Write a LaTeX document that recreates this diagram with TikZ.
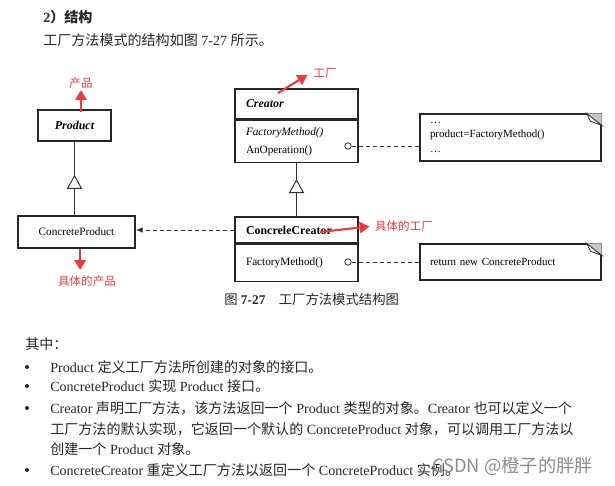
\documentclass[tikz,border=0pt]{standalone}
\usepackage{fontspec}
\setmainfont{Liberation Serif}
\newfontfamily\cjk{Noto Sans CJK SC}
\usetikzlibrary{arrows.meta,positioning,calc,decorations.markings}
\definecolor{mkred}{RGB}{240,56,56}
\newcommand{\dogear}[1]{%
  \fill[gray!45] ($(#1.north east)+(-0.38,0)$) -- (#1.north east) -- ($(#1.north east)+(0,-0.3)$) -- cycle;
  \draw[line width=0.6pt, black!80, fill=white] ($(#1.north east)+(-0.38,0)$) -- ($(#1.north east)+(0,-0.3)$) -- ($(#1.north east)+(-0.28,-0.2)$) -- cycle;}

\begin{document}
\begin{tikzpicture}[
    pbox/.style={draw=black!85, line width=1pt, minimum height=#1, inner sep=0pt, font=\fontsize{8}{10}\selectfont},
    cbox/.style={draw=black!85, line width=1pt, minimum height=#1, text width=2.525cm, inner xsep=0.275cm, inner ysep=0pt, align=left, font=\fontsize{8}{12.8}\selectfont},
    note/.style={draw=black!85, line width=1pt, minimum height=#1, text width=4.025cm, inner xsep=0.25cm, inner ysep=0pt, align=left, font=\fontsize{7.8}{10.5}\selectfont},
    opcirc/.style={circle, draw=black!80, line width=0.6pt, fill=white, inner sep=0pt, minimum size=0.16cm},
    dep/.style={dash pattern=on 3pt off 2pt, line width=0.7pt, black!80},
    inh/.style={line width=0.9pt, black!80, decoration={markings, mark=at position #1 with {\arrow{Triangle[open, fill=white, length=0.35cm, width=0.38cm, line width=0.7pt]}}}, postaction={decorate}},
    redarr/.style={draw=mkred, line width=1.5pt, -{Triangle[length=7pt, width=8pt]}},
    redlbl/.style={text=mkred, font=\cjk\fontsize{8.2}{10}\selectfont, inner sep=1pt},
    txt/.style={anchor=base west, inner sep=0pt, text=black!85, font=\fontsize{10}{12}\selectfont},
    dot/.style={circle, fill=black!85, inner sep=0pt, minimum size=0.1cm}
]
\useasboundingbox (0,0) rectangle (15.375,-12.15);

% heading
\node[txt, font=\bfseries\fontsize{10}{12}\selectfont] (ttl) at (1.075,-0.55) {2{\cjk ）结构}};
\node[txt] (sub) at (1.075,-1.125) {{\cjk 工厂方法模式的结构如图} 7-27 {\cjk 所示。}};

% product side
\node[pbox=0.775cm, minimum width=1.825cm, font=\bfseries\itshape\fontsize{8.5}{10}\selectfont] (prd) at (1.8625,-3.1375) {Product};
\node[pbox=0.8cm, minimum width=2.925cm] (cpr) at (1.9125,-5.8) {ConcreteProduct};
\draw[inh=0.55] (prd.south |- cpr.north) -- (prd.south);

% creator side
\node[cbox=0.75cm, font=\bfseries\itshape\fontsize{8.5}{10}\selectfont] (crt) at (7.4125,-2.6) {Creator};
\node[cbox=1.05cm, below=0pt of crt] (crtop) {\textit{FactoryMethod()}\\AnOperation()};
\node[cbox=0.65cm, font=\bfseries\fontsize{8.5}{10}\selectfont] (ccr) at (7.4125,-5.75) {ConcreleCreator};
\node[cbox=0.925cm, below=0pt of ccr] (ccrop) {FactoryMethod()};
\draw[inh=0.7] (ccr.north) -- (crtop.south);

% notes
\node[note=1.175cm] (nt1) at (12.7625,-3.4375) {\dots\\product=FactoryMethod()\\\dots};
\node[note=0.9cm] (nt2) at (12.7625,-6.55) {return new ConcreteProduct};
\dogear{nt1}
\dogear{nt2}
\node[opcirc] (oc1) at (8.7,-3.65) {};
\node[opcirc] (oc2) at (8.7,-6.55) {};
\draw[dep] (oc1.east) -- (oc1.east -| nt1.west);
\draw[dep] (oc2.east) -- (oc2.east -| nt2.west);
\draw[dep, -{Latex[length=5pt, width=4pt]}] (ccr.west) -- (ccr.west -| cpr.east);

% red marks
\node[redlbl] (lb1) at (2.025,-2.075) {产品};
\node[redlbl] (lb2) at (2.175,-7.025) {具体的产品};
\node[redlbl] (lb3) at (8.125,-1.85) {工厂};
\node[redlbl] (lb4) at (10.1,-5.65) {具体的工厂};
\coordinate (r3) at (6.95,-2.325);
\coordinate (r4) at (8.0,-5.8);
\draw[redarr] ([yshift=-0.08cm]lb1.south |- prd.north) -- (lb1.south);
\draw[redarr, shorten >=0.1cm] ([xshift=0.09cm]cpr.south) -- ([xshift=0.09cm]cpr.south |- lb2.north);
\draw[redarr] (r3) -- ([xshift=-0.11cm, yshift=-0.025cm]lb3.west);
\draw[redarr, shorten >=0.1cm] (r4) -- (lb4.west);

% caption
\node[txt, font=\fontsize{9.5}{11}\selectfont] (cap) at (5.6,-7.6) {{\cjk 图} \textbf{7-27}\quad{\cjk 工厂方法模式结构图}};

% list
\node[txt] (qz) at (0.625,-8.725) {{\cjk 其中：}};
\node[dot] (bl1) at (0.675,-9.175) {};
\node[dot] (bl2) at (0.675,-9.65) {};
\node[dot] (bl3) at (0.675,-10.2) {};
\node[dot] (bl4) at (0.675,-11.75) {};
\node[txt] (l1) at (1.25,-9.3) {Product {\cjk 定义工厂方法所创建的对象的接口。}};
\node[txt] (l2) at (1.25,-9.775) {ConcreteProduct {\cjk 实现} Product {\cjk 接口。}};
\node[txt] (l3) at (1.25,-10.325) {Creator {\cjk 声明工厂方法，该方法返回一个} Product {\cjk 类型的对象。}Creator {\cjk 也可以定义一个}};
\node[txt] (l3b) at (1.25,-10.85) {{\cjk 工厂方法的默认实现，它返回一个默认的} ConcreteProduct {\cjk 对象，可以调用工厂方法以}};
\node[txt] (l3c) at (1.25,-11.35) {{\cjk 创建一个} Product {\cjk 对象。}};
\node[txt] (l4) at (1.25,-11.875) {ConcreteCreator {\cjk 重定义工厂方法以返回一个} ConcreteProduct {\cjk 实例。}};

% watermark
\node[txt, font=\cjk\fontsize{13}{15}\selectfont, text=black!45] (wm) at (10.8,-11.8) {CSDN @橙子的胖胖};
\end{tikzpicture}
\end{document}
